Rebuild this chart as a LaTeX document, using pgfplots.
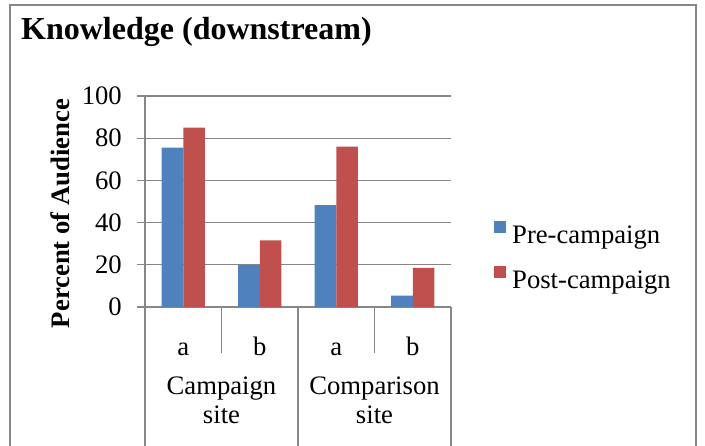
\documentclass[border=0pt]{standalone}
\usepackage{pgfplots}
\pgfplotsset{compat=1.18}
\usepackage{fontspec}
\setmainfont{Liberation Serif}
\definecolor{preblue}{HTML}{4F81BD}
\definecolor{postred}{HTML}{C0504D}
\definecolor{axgray}{HTML}{878787}
\begin{document}
\begin{tikzpicture}
\useasboundingbox (0pt,0pt) rectangle (705pt,445pt);
\draw[axgray, line width=2.2pt] (10pt,-5pt) -- (10pt,440pt) -- (696pt,440pt) -- (696pt,-5pt);
\node[anchor=base west, inner sep=0pt, font=\fontsize{32}{38}\selectfont\bfseries] at (21pt,405pt) {Knowledge (downstream)};
\begin{axis}[
  at={(145pt,138pt)}, anchor=south west,
  scale only axis, width=306pt, height=211pt,
  xmin=-0.5, xmax=3.5, ymin=0, ymax=100,
  axis lines*=left,
  axis line style={axgray, line width=1.3pt},
  ytick={0,20,...,100},
  ymajorgrids, grid style={axgray, line width=1.3pt},
  tick align=outside, major tick length=8pt,
  ytick style={axgray, line width=1.3pt},
  xtick={0,1,2,3}, xticklabels={a,b,a,b},
  xtick style={draw=none},
  /pgf/number format/assume math mode=true,
  tick label style={font=\fontsize{26.67}{32}\selectfont},
  yticklabel style={inner sep=0pt, anchor=east, xshift=-15pt},
  xticklabel style={inner sep=0pt, anchor=base, yshift=-40pt},
  ylabel={Percent of Audience},
  ylabel style={at={(axis description cs:-0.278,0.443)}, anchor=center, font=\fontsize{26.67}{32}\selectfont\bfseries},
  ybar, bar width=21.7pt,
  clip=false,
  legend style={at={(1.1405,0.244)}, anchor=west, draw=none, fill=none, inner sep=0pt,
    font=\fontsize{26.67}{32}\selectfont, row sep=21pt, column sep=6pt,
    nodes={inner sep=0pt}},
  legend cell align=left,
  legend image code/.code={\fill[#1] (0pt,2.7pt) rectangle (12pt,14.7pt);},
]
\addplot[fill=preblue, draw=none, bar shift=-10.85pt] coordinates {(0,75.5) (1,20) (2,48.3) (3,5.4)};
\addplot[fill=postred, draw=none, bar shift=10.85pt] coordinates {(0,85) (1,31.6) (2,76) (3,18.6)};
\legend{Pre-campaign, Post-campaign}
\draw[axgray, line width=1.3pt] (axis cs:-0.5,0) -- ++(0pt,-140pt);
\draw[axgray, line width=1.3pt] (axis cs:1.5,0) -- ++(0pt,-140pt);
\draw[axgray, line width=1.3pt] (axis cs:3.5,0) -- ++(0pt,-140pt);
\draw[axgray, line width=1.3pt] (axis cs:0.5,0) -- ++(0pt,-46pt);
\draw[axgray, line width=1.3pt] (axis cs:2.5,0) -- ++(0pt,-46pt);
\node[anchor=base, inner sep=0pt, font=\fontsize{26.67}{32}\selectfont] at ([yshift=-87pt]axis cs:0.5,0) {Campaign};
\node[anchor=base, inner sep=0pt, font=\fontsize{26.67}{32}\selectfont] at ([yshift=-116pt]axis cs:0.5,0) {site};
\node[anchor=base, inner sep=0pt, font=\fontsize{26.67}{32}\selectfont] at ([yshift=-87pt]axis cs:2.5,0) {Comparison};
\node[anchor=base, inner sep=0pt, font=\fontsize{26.67}{32}\selectfont] at ([yshift=-116pt]axis cs:2.5,0) {site};
\end{axis}
\end{tikzpicture}
\end{document}
